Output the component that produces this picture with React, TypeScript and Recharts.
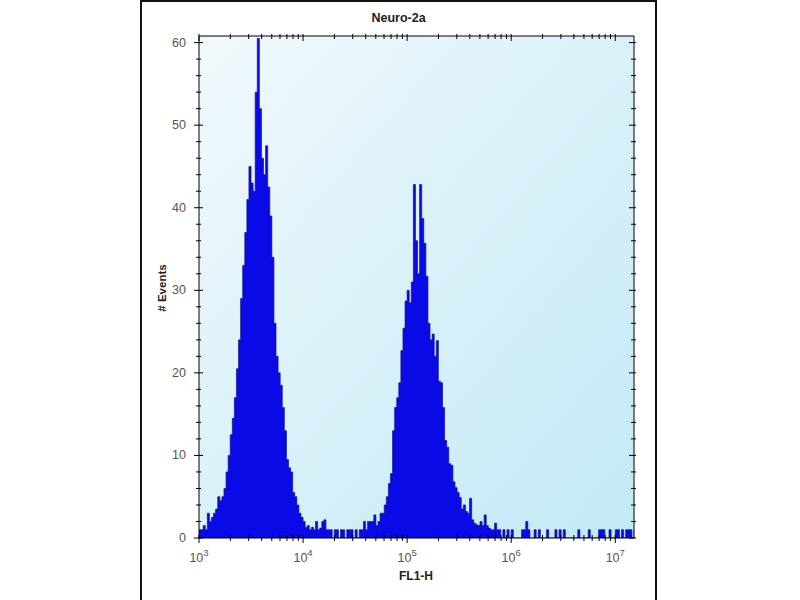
import { AreaChart, Area, XAxis, YAxis, CartesianGrid } from 'recharts';

// histogram channels: log10(FL1-H) from 3.00, 0.02 decade per bin
const binStart = 3;
const binWidth = 0.02;
const counts = [
  1, 1, 1.5, 1, 3, 2, 2.5, 3, 3.5, 5,
  4.5, 5, 6, 8, 10, 12.5, 14.5, 17, 20.5, 24,
  29, 33, 37, 41, 45, 43, 42, 54, 60.5, 52,
  46, 44, 47.5, 42.5, 39, 34, 26, 22, 20, 18.5,
  15.8, 13, 9.5, 8.5, 8, 5.5, 5, 4, 3, 2.5,
  2, 1.3, 1.5, 1, 1.3, 1, 2, 1, 1.2, 2,
  2.2, 1, 1, 1, 0, 1, 1, 0, 1, 1,
  0, 1, 1, 1, 0, 1, 0, 1, 1, 2,
  1, 2, 2, 2, 2.8, 1.5, 2, 3, 3, 4,
  5, 6.6, 7.8, 13, 15.8, 17, 18.8, 22.7, 25.4, 28.7,
  30, 28.5, 31, 42.8, 36, 32, 42.8, 38.7, 35.7, 31.7,
  26, 24, 24.7, 22, 23.9, 19, 18.8, 15.8, 11.8, 11,
  9, 8.8, 6.8, 6.1, 5.5, 4.9, 3.5, 4, 3.2, 3,
  4.8, 2.2, 1.8, 1.6, 1.5, 2, 1.5, 2.8, 1.5, 1.2,
  1, 1, 1.8, 1, 1, 0, 1, 0, 1, 0,
  1, 0, 0, 0, 0, 1, 1, 2, 1, 0,
  0, 1, 0, 1, 0, 0, 0, 1, 0, 0,
  0, 1, 0, 1, 0, 1, 0, 0, 0, 0,
  0, 0, 1, 0, 0, 0, 0, 1, 0, 0,
  0, 0, 1, 1, 1, 0, 0, 1, 0, 0,
  1, 1, 0, 1, 0, 1, 1, 1, 0, 1,
];

const decades = [3, 4, 5, 6, 7];
const minorSteps = [2, 3, 4, 5, 6, 7, 8, 9];
const yTicks = [0, 2, 4, 6, 8, 10, 12, 14, 16, 18, 20, 22, 24, 26, 28, 30, 32, 34, 36, 38, 40, 42, 44, 46, 48, 50, 52, 54, 56, 58, 60];
const xMax = 7.18;
const yMax = 60.8;

const data = counts.map((count, i) => ({ x: +(binStart + i * binWidth).toFixed(2), count }));
data.push({ x: +(binStart + counts.length * binWidth).toFixed(2), count: counts[counts.length - 1] });

const xTicks = decades
  .flatMap((d) => [d, ...minorSteps.map((m) => d + Math.log10(m))])
  .filter((v) => v <= xMax);

const font = '"Liberation Sans", Arial, sans-serif';
const isMajorX = (v: number) => decades.includes(v);
const isMajorY = (v: number) => v % 10 === 0;

function BottomTick({ x, y, payload }: any) {
  const major = isMajorX(payload.value);
  return (
    <g>
      <line x1={x} x2={x} y1={y - 3} y2={y + (major ? 5 : 3)} stroke="#000" />
      {major && (
        <text x={x} y={y + 24} textAnchor="middle" fontSize={12.5} fill="#555" fontFamily={font}>
          10<tspan dy={-6} fontSize={9.5}>{payload.value}</tspan>
        </text>
      )}
    </g>
  );
}

function TopTick({ x, y, payload }: any) {
  const major = isMajorX(payload.value);
  return <line x1={x} x2={x} y1={y - 2} y2={y + (major ? 5 : 3)} stroke="#000" />;
}

function LeftTick({ x, y, payload }: any) {
  const major = isMajorY(payload.value);
  return (
    <g>
      <line x1={x - (major ? 5 : 3)} x2={x + (major ? 4 : 2)} y1={y} y2={y} stroke="#000" />
      {major && (
        <text x={x - 13} y={y + 4} textAnchor="end" fontSize={12.5} fill="#555" fontFamily={font}>
          {payload.value}
        </text>
      )}
    </g>
  );
}

function RightTick({ x, y, payload }: any) {
  const major = isMajorY(payload.value);
  return <line x1={x - (major ? 5 : 3)} x2={x + 2} y1={y} y2={y} stroke="#000" />;
}

export default function App() {
  return (
    <div style={{ position: 'fixed', left: 0, top: 0, width: 800, height: 600, background: '#fff', overflow: 'hidden', fontFamily: font }}>
      <div
        style={{
          position: 'absolute',
          left: 140,
          top: 0,
          width: 517,
          height: 640,
          boxSizing: 'border-box',
          border: '2px solid #111',
        }}
      />
      <div style={{ position: 'absolute', left: 140, top: 11, width: 517, textAlign: 'center', fontSize: 12.5, fontWeight: 'bold', color: '#222' }}>
        Neuro-2a
      </div>
      <div
        style={{
          position: 'absolute',
          left: 162 - 50,
          top: 288 - 8,
          width: 100,
          height: 16,
          lineHeight: '16px',
          textAlign: 'center',
          fontSize: 11.5,
          fontWeight: 'bold',
          color: '#222',
          transform: 'rotate(-90deg)',
        }}
      >
        # Events
      </div>
      <div style={{ position: 'absolute', left: 366, top: 569, width: 100, textAlign: 'center', fontSize: 12, fontWeight: 'bold', color: '#222' }}>
        FL1-H
      </div>
      <div style={{ position: 'absolute', left: 140, top: 0 }}>
        <AreaChart width={517} height={600} data={data} margin={{ top: 35, right: 22, bottom: 22, left: 19 }}>
          <defs>
            <linearGradient id="plotBg" x1="0" y1="0" x2="1" y2="1">
              <stop offset="0%" stopColor="#f1f9fc" />
              <stop offset="100%" stopColor="#c2e9f6" />
            </linearGradient>
          </defs>
          <CartesianGrid horizontal={false} vertical={false} fill="url(#plotBg)" />
          <Area
            type="stepAfter"
            dataKey="count"
            stroke="#12128c"
            strokeWidth={0.7}
            fill="#0a0ae6"
            fillOpacity={1}
            dot={false}
            activeDot={false}
            isAnimationActive={false}
          />
          <XAxis
            type="number"
            dataKey="x"
            domain={[binStart, xMax]}
            allowDataOverflow
            ticks={xTicks}
            interval={0}
            height={40}
            tickSize={0}
            tickMargin={0}
            tickLine={false}
            axisLine={{ stroke: '#000' }}
            tick={(p: any) => <BottomTick {...p} />}
          />
          <XAxis
            xAxisId="top"
            orientation="top"
            type="number"
            dataKey="x"
            domain={[binStart, xMax]}
            allowDataOverflow
            ticks={xTicks}
            interval={0}
            height={1}
            tickSize={0}
            tickMargin={0}
            tickLine={false}
            axisLine={{ stroke: '#000' }}
            tick={(p: any) => <TopTick {...p} />}
          />
          <YAxis
            type="number"
            domain={[0, yMax]}
            allowDataOverflow
            ticks={yTicks}
            interval={0}
            width={40}
            tickSize={0}
            tickMargin={0}
            tickLine={false}
            axisLine={{ stroke: '#000' }}
            tick={(p: any) => <LeftTick {...p} />}
          />
          <YAxis
            yAxisId="r"
            orientation="right"
            type="number"
            domain={[0, yMax]}
            allowDataOverflow
            ticks={yTicks}
            interval={0}
            width={1}
            tickSize={0}
            tickMargin={0}
            tickLine={false}
            axisLine={{ stroke: '#000' }}
            tick={(p: any) => <RightTick {...p} />}
          />
        </AreaChart>
      </div>
    </div>
  );
}
